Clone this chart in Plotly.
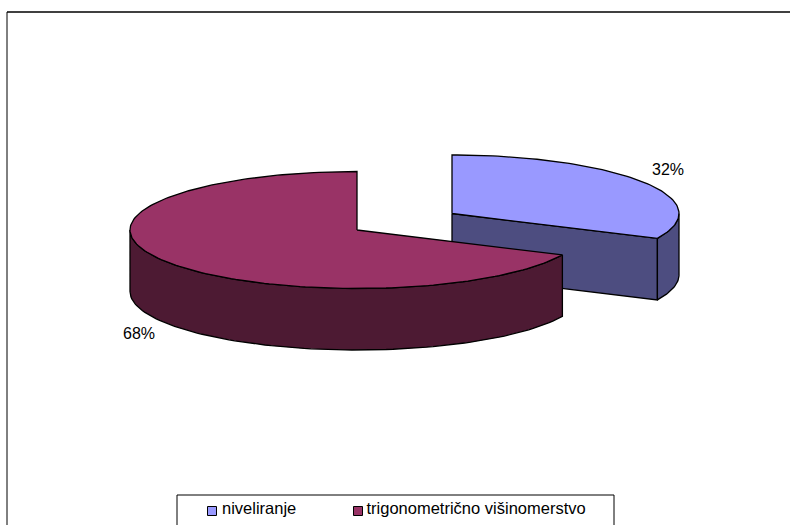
import numpy as np
import plotly.graph_objects as go

# Survey shares and series names
categories = ["niveliranje", "trigonometrično višinomerstvo"]
shares = [32, 68]
top_colors = ["#9999FF", "#993366"]
side_colors = ["#4D4D80", "#4D1A33"]

# Pie projection in the pixel-like plot space
WIDTH, HEIGHT = 790, 525
RX, RY, DEPTH = 227, 58.5, 61.5
CENTERS = [(452, 213.5), (357, 230)]
FONT = "Liberation Sans, Arial, sans-serif"
FONT_SIZE = 16
KEY_FONT_SIZE = 16.5


def rim_point(center, angle):
    # Angle is measured clockwise from twelve o'clock, as pie slices are laid out
    return center[0] + RX * np.sin(angle), center[1] - RY * np.cos(angle)


def arc(center, start, stop, n=90):
    return rim_point(center, np.linspace(start, stop, n))


def polygon(xs, ys, color):
    return go.Scatter(
        x=list(xs), y=list(ys), mode="lines", fill="toself", fillcolor=color,
        line=dict(color="black", width=1.3), hoverinfo="skip", showlegend=False,
    )


total = sum(shares)
split = 2 * np.pi * shares[0] / total
fig = go.Figure()

# Detached slice: radial wall and outer rim sit under its top face
c = CENTERS[0]
ex, ey = rim_point(c, split)
fig.add_trace(polygon([c[0], ex, ex, c[0], c[0]],
                      [c[1], ey, ey + DEPTH, c[1] + DEPTH, c[1]], side_colors[0]))
ax, ay = arc(c, np.pi / 2, split, 30)
fig.add_trace(polygon(np.r_[ax, ax[::-1], ax[0]],
                      np.r_[ay, ay[::-1] + DEPTH, ay[0]], side_colors[0]))
ax, ay = arc(c, 0, split)
fig.add_trace(polygon(np.r_[c[0], ax, c[0]], np.r_[c[1], ay, c[1]], top_colors[0]))

# Larger slice drawn in front
c = CENTERS[1]
ax, ay = arc(c, split, 3 * np.pi / 2)
fig.add_trace(polygon(np.r_[ax, ax[::-1], ax[0]],
                      np.r_[ay, ay[::-1] + DEPTH, ay[0]], side_colors[1]))
ax, ay = arc(c, split, 2 * np.pi, 180)
fig.add_trace(polygon(np.r_[c[0], ax, c[0]], np.r_[c[1], ay, c[1]], top_colors[1]))

# Percentage labels come straight from the shares
fig.add_trace(go.Scatter(
    x=[668, 139], y=[171, 335], mode="text",
    text=[f"{v}%" for v in shares],
    textfont=dict(family=FONT, size=FONT_SIZE, color="black"),
    hoverinfo="skip", showlegend=False,
))

# Key along the bottom of the chart: swatches and their names
KEY_SWATCH_X = [212, 358]
KEY_TEXT_X = [222, 366.5]
KEY_SWATCH_Y = 511
KEY_TEXT_Y = 510
fig.add_trace(go.Scatter(
    x=KEY_SWATCH_X, y=[KEY_SWATCH_Y] * 2, mode="markers", hoverinfo="skip", showlegend=False,
    marker=dict(symbol="square", size=9, color=top_colors,
                line=dict(color="black", width=1)),
))
fig.add_trace(go.Scatter(
    x=KEY_TEXT_X, y=[KEY_TEXT_Y] * 2, mode="text", text=categories,
    textposition="middle right", hoverinfo="skip", showlegend=False,
    textfont=dict(family=FONT, size=KEY_FONT_SIZE, color="black"),
))

# Outer chart frame and key box, both running off the page edge
frame = dict(type="line", xref="x", yref="y", line=dict(color="black", width=1))
shapes = [
    {**frame, "x0": 7, "y0": 12, "x1": 800, "y1": 12, "line": dict(color="black", width=1.5)},
    {**frame, "x0": 7, "y0": 12, "x1": 7, "y1": 530},
    {**frame, "x0": 177, "y0": 495, "x1": 614, "y1": 495},
    {**frame, "x0": 177, "y0": 495, "x1": 177, "y1": 530},
    {**frame, "x0": 614, "y0": 495, "x1": 614, "y1": 530},
]

fig.update_layout(
    width=WIDTH, height=HEIGHT,
    margin=dict(l=0, r=0, t=0, b=0),
    paper_bgcolor="white", plot_bgcolor="white",
    xaxis=dict(range=[0, WIDTH], visible=False, fixedrange=True),
    yaxis=dict(range=[HEIGHT, 0], visible=False, fixedrange=True),
    shapes=shapes,
    showlegend=False,
)

fig.write_html("out.html", config=dict(displayModeBar=False))
